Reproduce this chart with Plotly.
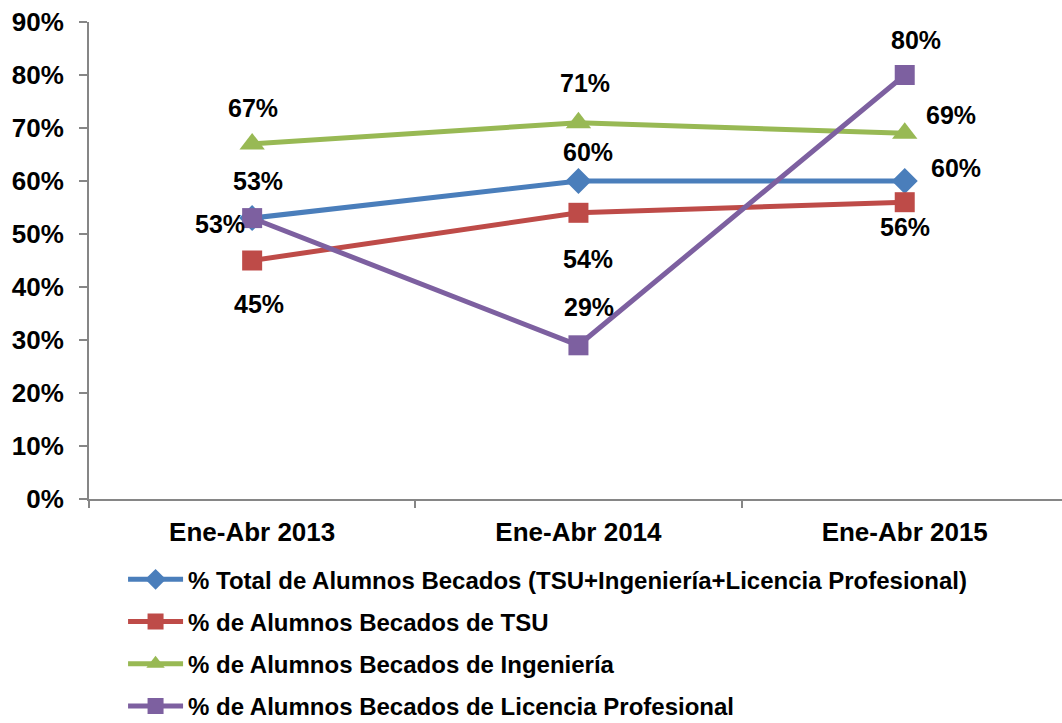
import plotly.graph_objects as go

categories = ["Ene-Abr 2013", "Ene-Abr 2014", "Ene-Abr 2015"]
total = [0.53, 0.60, 0.60]
tsu = [0.45, 0.54, 0.56]
ingenieria = [0.67, 0.71, 0.69]
licencia = [0.53, 0.29, 0.80]
y_ticks = [0.0, 0.1, 0.2, 0.3, 0.4, 0.5, 0.6, 0.7, 0.8, 0.9]
y_tick_labels = ["0%", "10%", "20%", "30%", "40%", "50%", "60%", "70%", "80%", "90%"]

names = [
    "% Total de Alumnos Becados (TSU+Ingeniería+Licencia Profesional)",
    "% de Alumnos Becados de TSU",
    "% de Alumnos Becados de Ingeniería",
    "% de Alumnos Becados de Licencia Profesional",
]
series = [total, tsu, ingenieria, licencia]
colors = ["#4A7EBB", "#BE4B48", "#98B954", "#7D60A0"]
symbols = ["diamond", "square", "triangle-up", "square"]
msizes = [20, 20, 22, 20]
# label pixel offsets (xshift, yshift) per series per point
offsets = [
    [(6, 37), (10, 29), (51, 13)],
    [(7, -43), (10, -46), (0, -25)],
    [(1, 36), (7, 40), (46, 18)],
    [(-32, -6), (11, 38), (11, 35)],
]

FONT = "Liberation Sans, Arial, sans-serif"

fig = go.Figure()
for i, (nm, vals) in enumerate(zip(names, series)):
    fig.add_trace(go.Scatter(
        x=categories, y=vals, name=nm, mode="lines+markers",
        line=dict(color=colors[i], width=5),
        marker=dict(symbol=symbols[i], size=msizes[i], color=colors[i]),
        legendgroup=str(i),
    ))

annotations = []
for i, vals in enumerate(series):
    for j, v in enumerate(vals):
        dx, dy = offsets[i][j]
        annotations.append(dict(
            x=categories[j], y=v, xref="x", yref="y",
            text=f"{round(v*100)}%", showarrow=False,
            xshift=dx, yshift=dy,
            font=dict(family=FONT, size=25, color="black", weight="bold"),
        ))

fig.update_layout(
    width=1062, height=723,
    margin=dict(l=89, r=0, t=22, b=224, autoexpand=False),
    paper_bgcolor="white", plot_bgcolor="white",
    showlegend=True,
    legend=dict(
        x=0.035, y=-0.122, xanchor="left", yanchor="top",
        font=dict(family=FONT, size=24, color="black", weight="bold"),
        itemwidth=55, tracegroupgap=8, maxheight=400,
        bgcolor="rgba(0,0,0,0)",
    ),
    annotations=annotations,
    xaxis=dict(
        type="category", range=[-0.5, 2.482], automargin=False,
        showline=True, linecolor="#868686", linewidth=2,
        ticks="outside", tickson="boundaries", ticklen=7, tickcolor="#868686", tickwidth=1.5,
        tickfont=dict(family=FONT, size=26, color="black", weight="bold"),
        showgrid=False, zeroline=False, ticklabelstandoff=9,
    ),
    yaxis=dict(
        range=[0, 0.9], tickvals=y_ticks, ticktext=y_tick_labels, automargin=False,
        showline=True, linecolor="#868686", linewidth=2,
        ticks="outside", ticklen=8, tickcolor="#868686", tickwidth=1.5,
        tickfont=dict(family=FONT, size=26, color="black", weight="bold"),
        showgrid=False, zeroline=False, ticklabelstandoff=10,
    ),
)

fig.write_html("out.html", config={"displayModeBar": False},
               post_script="document.body.style.margin='0';")
